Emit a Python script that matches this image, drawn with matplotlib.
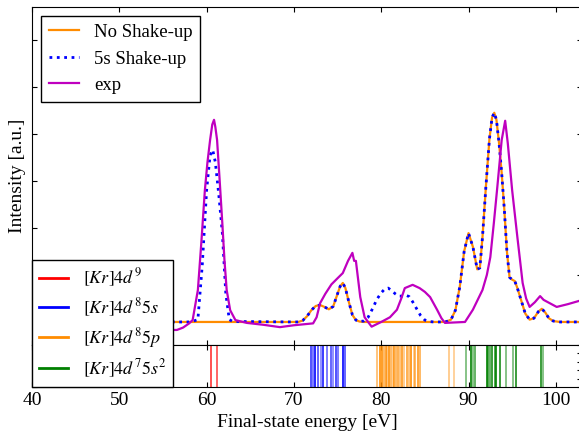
import numpy as np
import matplotlib
matplotlib.use('Agg')
import matplotlib.pyplot as plt

plt.rcParams['font.family'] = ['Liberation Serif', 'DejaVu Serif']
plt.rcParams['mathtext.fontset'] = 'stix'
plt.rcParams['font.size'] = 14
plt.rcParams['xtick.direction'] = 'in'
plt.rcParams['ytick.direction'] = 'in'
plt.rcParams['xtick.top'] = True
plt.rcParams['ytick.right'] = True

# theory spectra on a common energy grid (eV)
theory_e = [40.0, 58.0, 58.5, 59.0, 59.5, 60.0, 60.4, 60.7, 61.0, 61.4, 61.8,
            62.2, 62.6, 63.0, 70.0, 70.5, 71.0, 71.5, 72.0, 72.5, 73.0, 73.5,
            74.0, 74.5, 75.0, 75.3, 75.6, 75.9, 76.3, 76.7, 77.1, 77.5, 78.0,
            78.5, 79.0, 79.5, 80.0, 80.4, 80.8, 81.2, 81.6, 82.0, 82.4, 82.8,
            83.2, 83.6, 84.0, 84.5, 85.0, 85.5, 86.0, 87.0, 87.5, 88.0, 88.5,
            89.0, 89.5, 90.0, 90.5, 91.0, 91.3, 91.6, 92.0, 92.4, 92.7, 92.95,
            93.2, 93.5, 93.8, 94.1, 94.4, 94.7, 95.0, 95.3, 95.6, 96.0, 96.5,
            97.0, 97.5, 98.0, 98.4, 98.8, 99.2, 99.7, 100.5, 103.0]
no_shake = [0.0, 0.0, 0.0, 0.0, 0.0, 0.0, 0.0, 0.0, 0.0, 0.0, 0.0,
            0.0, 0.0, 0.0, 0.0, 0.0, 0.03, 0.12, 0.25, 0.34, 0.36, 0.32,
            0.27, 0.33, 0.6, 0.76, 0.83, 0.72, 0.42, 0.15, 0.04, 0.01, 0.0,
            0.0, 0.0, 0.0, 0.0, 0.0, 0.0, 0.0, 0.0, 0.0, 0.0, 0.0,
            0.0, 0.0, 0.0, 0.0, 0.0, 0.0, 0.0, 0.0, 0.01, 0.05, 0.25,
            0.75, 1.5, 1.89, 1.6, 1.12, 1.15, 1.8, 2.9, 3.9, 4.35, 4.45,
            4.3, 3.8, 3.17, 2.4, 1.5, 0.95, 0.9, 0.87, 0.72, 0.48, 0.18,
            0.05, 0.08, 0.22, 0.28, 0.2, 0.08, 0.02, 0.0, 0.0]
shake_5s = [0.0, 0.0, 0.02, 0.05, 1.2, 2.8, 3.55, 3.66, 3.4, 2.7, 1.9,
            0.6, 0.05, 0.01, 0.0, 0.0, 0.03, 0.12, 0.25, 0.34, 0.36, 0.32,
            0.27, 0.33, 0.6, 0.76, 0.83, 0.72, 0.42, 0.15, 0.04, 0.01, 0.02,
            0.1, 0.28, 0.48, 0.62, 0.7, 0.72, 0.67, 0.6, 0.55, 0.55, 0.57,
            0.54, 0.43, 0.3, 0.14, 0.04, 0.01, 0.0, 0.0, 0.01, 0.05, 0.25,
            0.75, 1.5, 1.89, 1.6, 1.12, 1.15, 1.8, 2.9, 3.9, 4.35, 4.45,
            4.3, 3.8, 3.17, 2.4, 1.5, 0.95, 0.9, 0.87, 0.72, 0.48, 0.18,
            0.05, 0.08, 0.22, 0.28, 0.2, 0.08, 0.02, 0.0, 0.0]

# measured spectrum
exp_e = [56.0, 56.6, 57.3, 58.0, 58.4, 59.0, 59.4, 59.8, 60.1, 60.4, 60.65,
         60.85, 61.0, 61.2, 61.5, 61.8, 62.05, 62.3, 62.7, 63.3, 64.6, 66.5,
         68.4, 70.0, 72.2, 72.6, 73.0, 73.6, 74.3, 75.0, 75.6, 76.2, 76.7,
         76.9, 77.1, 77.6, 78.1, 78.9, 80.0, 81.0, 81.8, 82.3, 82.7, 83.6,
         84.4, 85.0, 85.6, 86.4, 86.9, 87.3, 89.6, 90.5, 91.6, 92.1, 92.5,
         92.9, 93.3, 93.8, 94.2, 94.5, 95.0, 95.6, 96.2, 96.6, 97.0, 97.6,
         98.2, 98.6, 99.0, 100.1, 101.4, 102.7, 103.5]
exp_i = [-0.17, -0.17, -0.12, -0.03, 0.04, 0.68, 1.7, 2.8, 3.4, 3.87, 4.2,
         4.3, 4.15, 3.87, 3.0, 2.1, 1.3, 0.68, 0.25, 0.04, -0.02, -0.06,
         -0.11, -0.07, -0.03, 0.1, 0.4, 0.6, 0.8, 0.93, 1.04, 1.3, 1.47,
         1.3, 1.3, 0.53, 0.1, -0.1, 0.0, 0.1, 0.26, 0.5, 0.72, 0.79,
         0.72, 0.64, 0.53, 0.26, 0.08, -0.02, 0.0, 0.26, 0.68, 1.0, 1.38,
         2.1, 2.87, 3.87, 4.28, 3.8, 2.8, 1.8, 0.83, 0.5, 0.32, 0.42,
         0.55, 0.47, 0.43, 0.32, 0.38, 0.45, 0.48]

# final-state lines and relative weights
kr4d9_e = [60.5, 61.15]
kr4d9_w = [0.8, 0.7]
kr4d85s_e = [71.95, 72.2, 72.45, 72.8, 73.1, 73.35, 73.75, 74.2, 74.5,
             74.8, 75.1, 75.65, 75.85]
kr4d85s_w = [0.8, 0.6, 1.0, 0.7, 0.5, 0.9, 0.6, 0.7, 0.5, 0.8, 0.6, 1.0, 0.7]
kr4d85p_e = [79.5, 79.9, 80.1, 80.3, 80.5, 80.7, 80.9, 81.1, 81.3, 81.5,
             81.7, 81.9, 82.1, 82.4, 82.6, 82.9, 83.2, 83.4, 83.7, 83.9,
             84.2, 84.5, 87.8, 88.35]
kr4d85p_w = [0.6, 1.0, 1.0, 0.7, 0.9, 0.6, 1.0, 0.7, 0.5, 0.9, 0.7, 0.8,
             0.6, 0.9, 0.5, 0.8, 0.6, 1.0, 0.5, 0.7, 0.9, 0.7, 0.5, 0.45]
kr4d75s2_e = [89.7, 90.25, 90.55, 90.75, 92.1, 92.25, 92.45, 92.65, 93.0,
              93.2, 93.6, 94.35, 95.1, 95.45, 98.3, 98.5]
kr4d75s2_w = [0.55, 1.0, 0.55, 0.7, 1.0, 0.8, 0.7, 0.9, 0.8, 1.0, 0.9, 0.55,
              0.55, 0.9, 0.9, 0.55]

W, H = 579.0, 437.0
fig = plt.figure(figsize=(W / 100, H / 100), dpi=100)
ax = fig.add_axes([32 / W, 1 - 345 / H, 550 / W, 338 / H])
ax2 = fig.add_axes([32 / W, 1 - 387 / H, 550 / W, 42 / H], sharex=ax)

ax.plot(theory_e, no_shake, color='darkorange', lw=1.6, label='No Shake-up')
ax.plot(theory_e, shake_5s, color='b', ls=':', lw=2.0, label='5s Shake-up')
ax.plot(exp_e, exp_i, color='m', lw=1.6, label='exp')

ax.set_xlim(40, 103)
ax.set_ylim(-0.49, 6.7)
ax.set_yticks(np.arange(0, 7))
ax.tick_params(labelleft=False, labelbottom=False)
ax.set_ylabel('Intensity [a.u.]')
ax.legend(loc='upper left', fancybox=False, edgecolor='k', framealpha=1,
          handlelength=1.6, fontsize=13.5)

sticks = [(kr4d9_e, kr4d9_w, 'r', r'$[Kr]4d^9$'),
          (kr4d85s_e, kr4d85s_w, 'b', r'$[Kr]4d^85s$'),
          (kr4d85p_e, kr4d85p_w, 'darkorange', r'$[Kr]4d^85p$'),
          (kr4d75s2_e, kr4d75s2_w, 'g', r'$[Kr]4d^75s^2$')]
for energies, weights, col, lab in sticks:
    for e, w in zip(energies, weights):
        ax2.axvline(e, color=col, lw=1.2, alpha=w)
    ax2.plot([], [], color=col, lw=2, label=lab)

ax2.set_ylim(0, 1)
ax2.set_yticks(np.arange(0, 1.01, 0.2))
ax2.tick_params(labelleft=False)
ax2.set_xticks([40, 50, 60, 70, 80, 90, 100])
ax2.set_xlabel('Final-state energy [eV]')
leg2 = ax2.legend(loc='lower left', borderaxespad=0, fancybox=False,
                  edgecolor='k', framealpha=1, handlelength=1.6, fontsize=13,
                  labelspacing=0.4)
leg2.set_zorder(10)

fig.savefig('out.png', dpi=100)
